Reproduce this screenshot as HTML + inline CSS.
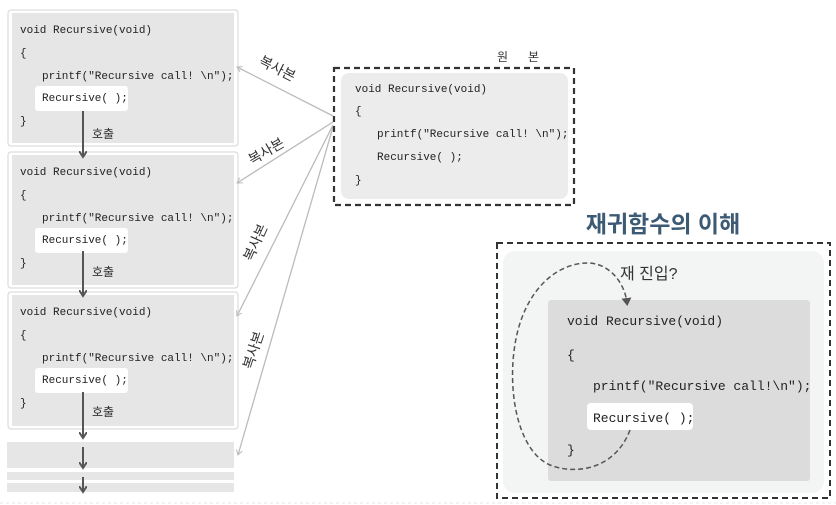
<!DOCTYPE html>
<html><head><meta charset="utf-8"><style>
body{margin:0;background:#fff;}
svg{display:block}
.c{font-family:"Liberation Mono","DejaVu Sans Mono",monospace;font-size:11px;fill:#222}
.c2{font-family:"Liberation Mono","DejaVu Sans Mono",monospace;font-size:13px;fill:#222}
.k{font-family:"Liberation Sans","Noto Sans CJK KR",sans-serif;fill:#333}
</style></head><body>
<svg width="836" height="505" viewBox="0 0 836 505" xmlns="http://www.w3.org/2000/svg">
<defs>
<marker id="ah" markerWidth="8" markerHeight="8" refX="6" refY="4" orient="auto" markerUnits="userSpaceOnUse"><path d="M0,0 L6,4 L0,8" fill="none" stroke="#555" stroke-width="2"/></marker>
<marker id="la" markerWidth="8" markerHeight="8" refX="5" refY="4" orient="auto" markerUnits="userSpaceOnUse"><path d="M0,1 L5,4 L0,7" fill="none" stroke="#bbb" stroke-width="1"/></marker>
<marker id="da" markerWidth="10" markerHeight="10" refX="5" refY="5" orient="auto" markerUnits="userSpaceOnUse"><path d="M0,0 L8,5 L0,10 z" fill="#555"/></marker>
</defs>
<g>
<rect x="8" y="10" width="230" height="136" rx="3" fill="#fff" stroke="#d4d4d4"/>
<rect x="12" y="13" width="222" height="130" fill="#e6e6e6"/>
<rect x="35" y="86" width="93" height="25" rx="3" fill="#fff"/>
<text class="c" x="20" y="33">void Recursive(void)</text>
<text class="c" x="20" y="56">{</text>
<text class="c" x="42" y="79">printf("Recursive call! \n");</text>
<text class="c" x="42" y="101">Recursive( );</text>
<text class="c" x="20" y="124">}</text>
</g>
<g transform="translate(0,142)">
<rect x="8" y="10" width="230" height="136" rx="3" fill="#fff" stroke="#d4d4d4"/>
<rect x="12" y="13" width="222" height="130" fill="#e6e6e6"/>
<rect x="35" y="86" width="93" height="25" rx="3" fill="#fff"/>
<text class="c" x="20" y="33">void Recursive(void)</text>
<text class="c" x="20" y="56">{</text>
<text class="c" x="42" y="79">printf("Recursive call! \n");</text>
<text class="c" x="42" y="101">Recursive( );</text>
<text class="c" x="20" y="124">}</text>
</g>
<g transform="translate(0,282)">
<rect x="8" y="10" width="230" height="137" rx="3" fill="#fff" stroke="#d4d4d4"/>
<rect x="12" y="13" width="222" height="131" fill="#e6e6e6"/>
<rect x="35" y="86" width="93" height="25" rx="3" fill="#fff"/>
<text class="c" x="20" y="33">void Recursive(void)</text>
<text class="c" x="20" y="56">{</text>
<text class="c" x="42" y="79">printf("Recursive call! \n");</text>
<text class="c" x="42" y="101">Recursive( );</text>
<text class="c" x="20" y="124">}</text>
</g>
<rect x="7" y="442" width="227" height="26" fill="#e6e6e6"/>
<rect x="7" y="472" width="227" height="8" fill="#e6e6e6"/>
<rect x="7" y="483" width="227" height="9" fill="#e6e6e6"/>
<g stroke="#555" stroke-width="2" fill="none">
<line x1="83" y1="111" x2="83" y2="157" marker-end="url(#ah)"/>
<line x1="83" y1="251" x2="83" y2="296" marker-end="url(#ah)"/>
<line x1="83" y1="392" x2="83" y2="438" marker-end="url(#ah)"/>
<line x1="83" y1="447" x2="83" y2="468" marker-end="url(#ah)"/>
<line x1="83" y1="477" x2="83" y2="492" marker-end="url(#ah)"/>
</g>
<text class="k" x="92" y="138" font-size="12">호출</text>
<text class="k" x="92" y="276" font-size="12">호출</text>
<text class="k" x="92" y="416" font-size="12">호출</text>
<line x1="0" y1="503" x2="836" y2="503" stroke="#e4e4e4" stroke-dasharray="3,3"/>
<g stroke="#bbb" stroke-width="1.3" fill="none">
<line x1="333" y1="116" x2="237" y2="67" marker-end="url(#la)"/>
<line x1="333" y1="122" x2="237" y2="183" marker-end="url(#la)"/>
<line x1="333" y1="125" x2="237" y2="316" marker-end="url(#la)"/>
<line x1="333" y1="127" x2="238" y2="455" marker-end="url(#la)"/>
</g>
<text class="k" font-size="14" transform="translate(258,64) rotate(27)">복사본</text>
<text class="k" font-size="14" transform="translate(252,165) rotate(-30)">복사본</text>
<text class="k" font-size="14" transform="translate(252,262) rotate(-66)">복사본</text>
<text class="k" font-size="14" transform="translate(252,370) rotate(-72)">복사본</text>
<text class="k" x="497" y="61" font-size="12">원</text>
<text class="k" x="528" y="61" font-size="12">본</text>
<rect x="334" y="68" width="240" height="137" fill="#fff" stroke="#333" stroke-width="2.2" stroke-dasharray="6,4"/>
<rect x="341" y="73" width="227" height="126" rx="8" fill="#ececec"/>
<text class="c" x="355" y="92">void Recursive(void)</text>
<text class="c" x="355" y="114">{</text>
<text class="c" x="377" y="137">printf("Recursive call! \n");</text>
<text class="c" x="377" y="160">Recursive( );</text>
<text class="c" x="355" y="183">}</text>
<text x="663" y="232" text-anchor="middle" font-family="'Liberation Sans','Noto Sans CJK KR',sans-serif" font-weight="bold" font-size="23" fill="#3d5a75">재귀함수의 이해</text>
<rect x="497" y="243" width="333" height="255" fill="#fff" stroke="#333" stroke-width="2" stroke-dasharray="6,4"/>
<rect x="503" y="251" width="321" height="242" rx="12" fill="#f3f4f4"/>
<rect x="548" y="300" width="262" height="181" rx="3" fill="#dcdcdc"/>
<rect x="587" y="403" width="106" height="27" rx="4" fill="#fff"/>
<text class="c2" x="567" y="325">void Recursive(void)</text>
<text class="c2" x="567" y="359">{</text>
<text class="c2" x="593" y="390">printf("Recursive call!\n");</text>
<text class="c2" x="593" y="422">Recursive( );</text>
<text class="c2" x="567" y="454">}</text>
<text class="k" x="620" y="279" font-size="16">재 진입?</text>
<path d="M630,430 C615,470 575,475 550,465 C515,450 505,380 518,330 C530,285 560,262 590,263 C612,265 625,285 627,303" fill="none" stroke="#555" stroke-width="1.5" stroke-dasharray="5,3" marker-end="url(#da)"/>
</svg>
</body></html>
